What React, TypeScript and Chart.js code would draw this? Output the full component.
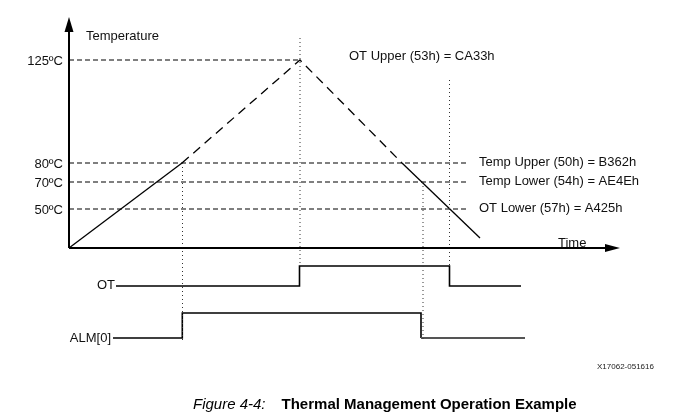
import React, { useEffect, useRef } from 'react';
import { Chart, registerables } from 'chart.js';

Chart.register(...registerables);

// ---- Data (time in diagram units, level in diagram units; level 0 = time axis) ----
const tempTimes = [0, 113, 231, 333, 411];
const tempLevels = [0, 85, 188, 85, 10];
const tempSegmentDashed = [false, true, true, false];

const thresholdTicks = ['125\u00BAC', '80\u00BAC', '70\u00BAC', '50\u00BAC'];
const thresholdLevels = [188, 85, 66, 39];
const thresholdEndTimes = [231, 398, 398, 398];
const registerLabels = [
  'OT Upper (53h) = CA33h',
  'Temp Upper (50h) = B362h',
  'Temp Lower (54h) = AE4Eh',
  'OT Lower (57h) = A425h',
];

const eventTimes = [113.5, 231, 354, 380.5];
const eventTops = [85, 210, 66, 168];
const eventBottoms = [-92, -18, -93, -18];

const signalNames = ['OT', 'ALM[0]'];
const otTimes = [47, 230.5, 380.5, 452];
const otStates = [0, 1, 0];
const almTimes = [44, 113.3, 352, 456];
const almStates = [0, 1, 0];

const axisTitles = ['Temperature', 'Time'];

// ---- Layout (not data) ----
const X_MIN = 0;
const X_MAX = 551;
const Y_MIN = -102;
const Y_MAX = 231;
const FONT = '"Liberation Sans", Arial, Helvetica, sans-serif';
const lanes = [
  { base: -38, amp: 20 },
  { base: -90, amp: 25 },
];

function stepPoints(times: number[], states: number[], lane: { base: number; amp: number }) {
  const pts: { x: number; y: number }[] = [];
  for (let i = 0; i < states.length; i++) {
    const lvl = lane.base + states[i] * lane.amp;
    pts.push({ x: times[i], y: lvl });
    pts.push({ x: times[i + 1], y: lvl });
  }
  return pts;
}

const diagramPlugin = {
  id: 'diagramDecor',
  afterDatasetsDraw(chart: any) {
    const ctx = chart.ctx as CanvasRenderingContext2D;
    const xs = chart.scales.x;
    const ys = chart.scales.y;
    const px = (v: number) => xs.getPixelForValue(v);
    const py = (v: number) => ys.getPixelForValue(v);
    ctx.save();
    // axes
    ctx.strokeStyle = '#000';
    ctx.fillStyle = '#000';
    ctx.lineWidth = 2;
    ctx.setLineDash([]);
    const ox = px(0);
    const oy = py(0);
    const topY = py(Y_MAX);
    const rightX = px(X_MAX);
    ctx.beginPath();
    ctx.moveTo(ox, oy);
    ctx.lineTo(ox, topY + 12);
    ctx.moveTo(ox, oy);
    ctx.lineTo(rightX - 12, oy);
    ctx.stroke();
    ctx.beginPath();
    ctx.moveTo(ox, topY);
    ctx.lineTo(ox - 4.5, topY + 15);
    ctx.lineTo(ox + 4.5, topY + 15);
    ctx.closePath();
    ctx.fill();
    ctx.beginPath();
    ctx.moveTo(rightX, oy);
    ctx.lineTo(rightX - 15, oy - 4);
    ctx.lineTo(rightX - 15, oy + 4);
    ctx.closePath();
    ctx.fill();

    // texts
    ctx.font = `13px ${FONT}`;
    ctx.fillStyle = '#111';
    ctx.textBaseline = 'middle';
    ctx.textAlign = 'right';
    thresholdTicks.forEach((t, i) => {
      ctx.fillText(t, ox - 6, py(thresholdLevels[i]) + 1);
    });
    ctx.textAlign = 'left';
    ctx.fillText(axisTitles[0], px(17), py(212));
    ctx.textBaseline = 'alphabetic';
    ctx.fillText(axisTitles[1], px(489), py(1));
    ctx.textBaseline = 'middle';
    registerLabels.forEach((t, i) => {
      if (i === 0) ctx.fillText(t, px(280), py(thresholdLevels[i] + 4));
      else ctx.fillText(t, px(410), py(thresholdLevels[i] + 1));
    });
    ctx.textAlign = 'right';
    ctx.fillText(signalNames[0], px(otTimes[0]) - 1, py(lanes[0].base) - 1);
    ctx.fillText(signalNames[1], px(almTimes[0]) - 2, py(lanes[1].base));
    ctx.restore();
  },
};

export default function App() {
  const ref = useRef<HTMLCanvasElement | null>(null);
  useEffect(() => {
    if (!ref.current) return;
    const thresholdSets = thresholdLevels.map((lvl, i) => ({
      data: [
        { x: 0, y: lvl },
        { x: thresholdEndTimes[i], y: lvl },
      ],
      borderColor: '#000',
      borderWidth: 1.2,
      borderDash: [5, 3],
    }));
    const eventSets = eventTimes.map((t, i) => ({
      data: [
        { x: t, y: eventTops[i] },
        { x: t, y: eventBottoms[i] },
      ],
      borderColor: '#333',
      borderWidth: 1,
      borderDash: [1, 3],
    }));
    const chart = new Chart(ref.current, {
      type: 'scatter',
      data: {
        datasets: [
          ...eventSets,
          ...thresholdSets,
          {
            data: tempTimes.map((t, i) => ({ x: t, y: tempLevels[i] })),
            borderColor: '#000',
            borderWidth: 1.3,
            segment: {
              borderDash: (c: any) => (tempSegmentDashed[c.p0DataIndex] ? [9, 6] : []),
            },
          },
          {
            data: stepPoints(otTimes, otStates, lanes[0]),
            borderColor: '#000',
            borderWidth: 1.6,
          },
          {
            data: stepPoints(almTimes, almStates, lanes[1]),
            borderColor: '#000',
            borderWidth: 1.6,
            segment: {
              borderColor: (c: any) => (c.p0DataIndex >= 4 ? '#555' : '#000'),
              borderWidth: (c: any) => (c.p0DataIndex >= 4 ? 2 : 1.6),
            },
          },
        ].map((d: any) => ({
          showLine: true,
          pointRadius: 0,
          pointHoverRadius: 0,
          fill: false,
          tension: 0,
          clip: false,
          ...d,
        })),
      },
      options: {
        responsive: false,
        animation: false,
        devicePixelRatio: 1,
        layout: { padding: { left: 69, right: 53, top: 17, bottom: 70 } },
        plugins: { legend: { display: false }, tooltip: { enabled: false }, title: { display: false } },
        events: [],
        scales: {
          x: { type: 'linear', min: X_MIN, max: X_MAX, display: false },
          y: { type: 'linear', min: Y_MIN, max: Y_MAX, display: false },
        },
      },
      plugins: [diagramPlugin],
    } as any);
    return () => chart.destroy();
  }, []);

  return (
    <div style={{ position: 'absolute', left: 0, top: 0, width: 673, height: 420, background: '#fff', fontFamily: FONT }}>
      <canvas ref={ref} width={673} height={420} style={{ display: 'block' }} />
      <div style={{ position: 'absolute', left: 597, top: 362, fontSize: 8, lineHeight: '10px', color: '#222', whiteSpace: 'nowrap' }}>
        X17062-051616
      </div>
      <div style={{ position: 'absolute', left: 193, top: 395, fontSize: 15, lineHeight: '18px', color: '#000', whiteSpace: 'nowrap' }}>
        <span style={{ fontStyle: 'italic' }}>Figure 4-4:</span>
        <span style={{ fontWeight: 'bold', marginLeft: 16 }}>Thermal Management Operation Example</span>
      </div>
    </div>
  );
}
